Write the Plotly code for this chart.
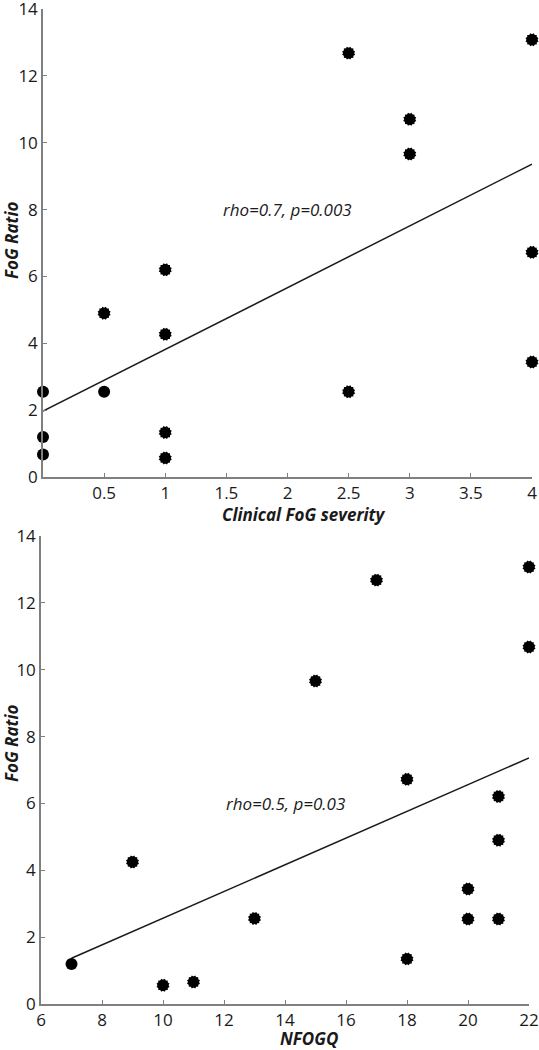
import plotly.graph_objects as go

# ---------------- Data ----------------
# Top panel: Clinical FoG severity vs FoG Ratio
top_circle_x = [0, 0, 0, 0.5]
top_circle_y = [2.55, 1.2, 0.67, 2.55]
top_star_x = [0.5, 1, 1, 1, 1, 2.5, 2.5, 3, 3, 4, 4, 4]
top_star_y = [4.9, 6.2, 4.27, 1.33, 0.57, 12.68, 2.55, 10.7, 9.66, 13.08, 6.72, 3.44]
top_fit_x = [0, 4]
top_fit_y = [1.97, 9.36]
top_text = "rho=0.7, p=0.003"

# Bottom panel: NFOGQ vs FoG Ratio
bot_circle_x = [7]
bot_circle_y = [1.2]
bot_star_x = [9, 10, 11, 13, 15, 17, 18, 18, 20, 20, 21, 21, 21, 22, 22]
bot_star_y = [4.25, 0.56, 0.66, 2.56, 9.66, 12.68, 6.72, 1.35, 3.44, 2.54, 2.54, 4.9, 6.21, 13.07, 10.68]
bot_fit_x = [7, 22]
bot_fit_y = [1.37, 7.36]
bot_text = "rho=0.5, p=0.03"

top_xticks = [0.5, 1, 1.5, 2, 2.5, 3, 3.5, 4]
top_xticktext = ["0.5", "1", "1.5", "2", "2.5", "3", "3.5", "4"]
y_ticks = [0, 2, 4, 6, 8, 10, 12, 14]
bot_xticks = [6, 8, 10, 12, 14, 16, 18, 20, 22]

W, H = 539, 1050
FONT = "Open Sans"

fig = go.Figure()


def add_panel(xa, ya, cx, cy, sx, sy, fx, fy):
    fig.add_trace(go.Scatter(x=fx, y=fy, mode="lines", xaxis=xa, yaxis=ya,
                             line=dict(color="#1a1a1a", width=1.5), showlegend=False,
                             hoverinfo="skip"))
    for ang in (0, 30, 60):
        fig.add_trace(go.Scatter(x=sx, y=sy, mode="markers", xaxis=xa, yaxis=ya,
                                 marker=dict(symbol="square", size=9.5, angle=ang,
                                             color="black", line=dict(width=0)),
                                 showlegend=False))
    fig.add_trace(go.Scatter(x=cx, y=cy, mode="markers", xaxis=xa, yaxis=ya,
                             marker=dict(symbol="circle", size=12, color="black",
                                         line=dict(width=0)),
                             showlegend=False))


add_panel("x", "y", top_circle_x, top_circle_y, top_star_x, top_star_y, top_fit_x, top_fit_y)
add_panel("x2", "y2", bot_circle_x, bot_circle_y, bot_star_x, bot_star_y, bot_fit_x, bot_fit_y)
for tr in fig.data:
    tr.cliponaxis = False

axis_common = dict(showgrid=False, zeroline=False, showline=True, linecolor="#808080",
                   linewidth=1.5, ticks="inside", ticklen=4, tickcolor="#808080",
                   tickwidth=1, tickfont=dict(family=FONT, size=17, color="#1a1a1a"),
                   mirror=False, automargin=False, ticklabeloverflow="allow")

fig.update_layout(
    width=W, height=H,
    margin=dict(l=0, r=0, t=0, b=0, pad=0),
    paper_bgcolor="white", plot_bgcolor="white",
    xaxis=dict(domain=[43 / W, 532 / W], range=[0, 4], tickvals=top_xticks,
               ticktext=top_xticktext, anchor="y", **axis_common),
    yaxis=dict(domain=[1 - 477 / H, 1 - 9 / H], range=[0, 14], tickvals=y_ticks,
               anchor="x", **axis_common),
    xaxis2=dict(domain=[41 / W, 529 / W], range=[6, 22], tickvals=bot_xticks,
                anchor="y2", **axis_common),
    yaxis2=dict(domain=[1 - 1004 / H, 1 - 536 / H], range=[0, 14], tickvals=y_ticks,
                anchor="x2", **axis_common),
)

title_font = dict(family=FONT, size=17, color="#1a1a1a")
ann = [
    dict(text="<b><i>FoG Ratio</i></b>", x=12 / W, y=1 - 240 / H, textangle=-90),
    dict(text="<b><i>Clinical FoG severity</i></b>", x=304 / W, y=1 - 514 / H),
    dict(text="<b><i>FoG Ratio</i></b>", x=11 / W, y=1 - 743 / H, textangle=-90),
    dict(text="<b><i>NFOGQ</i></b>", x=309 / W, y=1 - 1038 / H),
]
for a in ann:
    fig.add_annotation(xref="paper", yref="paper", showarrow=False, font=title_font,
                       xanchor="center", yanchor="middle", **a)

fig.add_annotation(xref="x", yref="y", x=2.0, y=8.0, text="<i>" + top_text + "</i>",
                   showarrow=False, font=dict(family=FONT, size=17, color="#1a1a1a"))
fig.add_annotation(xref="x2", yref="y2", x=14.0, y=6.0, text="<i>" + bot_text + "</i>",
                   showarrow=False, font=dict(family=FONT, size=17, color="#1a1a1a"))

fig.write_html("out.html", config={"displayModeBar": False},
               post_script="document.body.style.margin='0';"
                           "document.body.style.overflow='hidden';")
